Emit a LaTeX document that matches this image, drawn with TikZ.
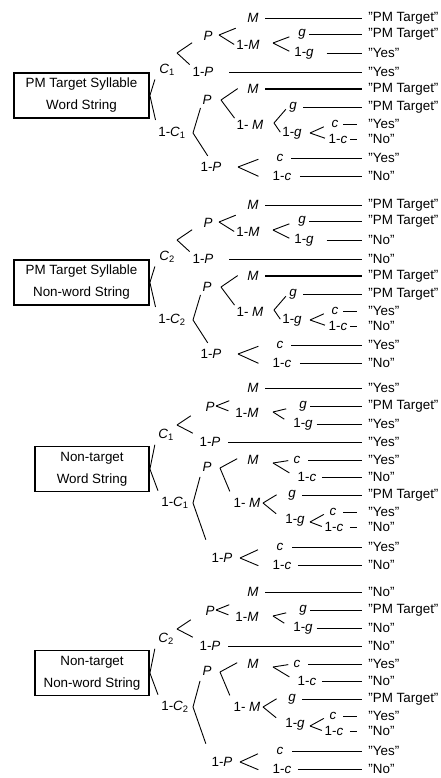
\documentclass[tikz,border=0pt]{standalone}
\usepackage{fontspec}
\setmainfont{Liberation Sans}

% rows of the answers, measured from the top of each tree
\def\rowsA{{18,34,53,72,89,107,124,139,158,176}}
\def\rowsB{{18,36,54,72,90,107,125,142,157,177,195}}

\begin{document}
\begin{tikzpicture}[x=1pt, y=-1pt, line width=0.9pt,
    lab/.style={inner sep=1pt, font=\fontsize{13.4}{16}\selectfont},
    answer/.style={anchor=west, inner sep=0pt, font=\fontsize{13.4}{16}\selectfont},
    case/.style={draw, line width=1.8pt, align=center, minimum height=45pt,
      font=\fontsize{13.4}{22}\selectfont},
    leaf/.style={shorten <=#1, shorten >=6pt},
    twig/.style={shorten <=#1, shorten >=11pt},
    arm/.style={shorten >=#1}]
\useasboundingbox (0,0) rectangle (440,778);

% PM target syllable: word / non-word string
\foreach \dy/\cn/\kind/\outs in {
    0/1/Word String/{PM Target,PM Target,Yes,Yes,PM Target,PM Target,Yes,No,Yes,No},
    187/2/Non-word String/{PM Target,PM Target,No,No,PM Target,PM Target,Yes,No,Yes,No}}{
  \begin{scope}[shift={(0,\dy)}]
    \node[case, minimum width=135pt] (box) at (81.5,95.5) {PM Target Syllable\\\kind};
    \node[lab] (C)   at (167,70)  {\textit{C}\textsubscript{\cn}};
    \node[lab] (nC)  at (172,133) {1-\textit{C}\textsubscript{\cn}};
    \node[lab] (P)   at (208,36)  {\textit{P}};
    \node[lab] (nP)  at (203,72)  {1-\textit{P}};
    \node[lab] (M)   at (253,18)  {\textit{M}};
    \node[lab] (nM)  at (248,45)  {1-\textit{M}};
    \node[lab] (g)   at (302,34)  {\textit{g}};
    \node[lab] (ng)  at (304,53)  {1-\textit{g}};
    \node[lab] (Pb)  at (207,100) {\textit{P}};
    \node[lab] (Mb)  at (253,89)  {\textit{M}};
    \node[lab] (nMb) at (250,125) {1- \textit{M}};
    \node[lab] (gb)  at (293,107) {\textit{g}};
    \node[lab] (ngb) at (292,133) {1-\textit{g}};
    \node[lab] (cb)  at (335,124) {\textit{c}};
    \node[lab] (ncb) at (338,139) {1-\textit{c}};
    \node[lab] (nPb) at (211,167) {1-\textit{P}};
    \node[lab] (cc)  at (280,158) {\textit{c}};
    \node[lab] (ncc) at (282,176) {1-\textit{c}};
    \foreach \txt [count=\i] in \outs {
      \pgfmathsetmacro\ry{\rowsA[\i-1]}
      \node[answer] (o\i) at (368,\ry) {"\txt"};
    }
    % branches
    \draw[arm=10pt] (box.east) -- (C.west);
    \draw[arm=6pt] (box.east) -- (nC.north west);
    \coordinate (vC) at (177,53);
    \draw[arm=12pt] (vC) -- (P.west);
    \draw[arm=2pt] (vC) -- (nP.north west);
    \coordinate (vP) at (219,35);
    \draw[arm=11pt] (vP) -- (M.south west);
    \draw[arm=1pt] (vP) -- (nM.west);
    \coordinate (vM) at (273,43);
    \draw[arm=8pt] (vM) -- (g.west);
    \draw[arm=4pt] (vM) -- (ng.west);
    \coordinate (vN) at (193,133);
    \draw[arm=2pt] (vN) -- (Pb.south west);
    \draw[arm=6pt] (vN) -- (nPb.north);
    \coordinate (vPb) at (221,100);
    \draw[arm=10pt] (vPb) -- (Mb.north west);
    \draw[arm=1pt] (vPb) -- (nMb.north west);
    \coordinate (vMc) at (274,123);
    \draw[arm=3pt] (vMc) -- (gb.west);
    \draw[arm=1pt] (vMc) -- (ngb.west);
    \coordinate (vG) at (310,133);
    \draw[arm=7pt] (vG) -- (cb.west);
    \draw[arm=2.5pt] (vG) -- (ncb.west);
    \coordinate (vQ) at (238,167);
    \draw[arm=18pt] (vQ) -- (cc.north west);
    \draw[arm=14pt] (vQ) -- (ncc.south west);
    % answers
    \draw[leaf=5.4pt] (M) -- (o1);
    \draw[leaf=2pt] (g) -- (o2);
    \draw[leaf=11.5pt] (ng) -- (o3);
    \draw[leaf=14.6pt] (nP) -- (o4);
    \draw[leaf=5.4pt, line width=1.5pt] (Mb) -- (o5);
    \draw[leaf=5pt] (gb) -- (o6);
    \draw[twig=3.6pt] (cb) -- (o7);
    \draw[twig=1.5pt] (ncb) -- (o8);
    \draw[leaf=6.6pt] (cc) -- (o9);
    \draw[leaf=7pt] (ncc) -- (o10);
  \end{scope}
}

% non-target: word / non-word string
\foreach \dy/\cn/\kind/\outs in {
    370/1/Word String/{Yes,PM Target,Yes,Yes,Yes,No,PM Target,Yes,No,Yes,No},
    574/2/Non-word String/{No,PM Target,No,No,Yes,No,PM Target,Yes,No,Yes,No}}{
  \begin{scope}[shift={(0,\dy)}]
    \node[case, minimum width=114pt] (box) at (92,99) {Non-target\\\kind};
    \node[lab] (C)   at (166,65)  {\textit{C}\textsubscript{\cn}};
    \node[lab] (nC)  at (175,133) {1-\textit{C}\textsubscript{\cn}};
    \node[lab] (P)   at (210,37)  {\textit{P}};
    \node[lab] (nP)  at (210,72)  {1-\textit{P}};
    \node[lab] (M)   at (253,18)  {\textit{M}};
    \node[lab] (nM)  at (247,43)  {1-\textit{M}};
    \node[lab] (g)   at (303,36)  {\textit{g}};
    \node[lab] (ng)  at (303,54)  {1-\textit{g}};
    \node[lab] (Pb)  at (207,97)  {\textit{P}};
    \node[lab] (Mb)  at (253,90)  {\textit{M}};
    \node[lab] (cb)  at (297,90)  {\textit{c}};
    \node[lab] (ncb) at (307,107) {1-\textit{c}};
    \node[lab] (nMb) at (247,133) {1- \textit{M}};
    \node[lab] (gb)  at (292,125) {\textit{g}};
    \node[lab] (ngb) at (295,150) {1-\textit{g}};
    \node[lab] (cc)  at (333,142) {\textit{c}};
    \node[lab] (ncc) at (334,157) {1-\textit{c}};
    \node[lab] (nPb) at (222,188) {1-\textit{P}};
    \node[lab] (cd)  at (280,177) {\textit{c}};
    \node[lab] (ncd) at (282,195) {1-\textit{c}};
    \foreach \txt [count=\i] in \outs {
      \pgfmathsetmacro\ry{\rowsB[\i-1]}
      \node[answer] (o\i) at (368,\ry) {"\txt"};
    }
    % branches
    \draw[arm=10pt] (box.east) -- (C.west);
    \draw[arm=5.5pt] (box.east) -- (nC.north west);
    \coordinate (vC) at (177,55);
    \draw[arm=16pt] (vC) -- (P.west);
    \draw[arm=6pt] (vC) -- (nP.north west);
    \coordinate (vP) at (216,36);
    \draw[arm=18pt] (vP) -- (M.south west);
    \draw[arm=6pt] (vP) -- (nM.west);
    \coordinate (vM) at (273,42);
    \draw[arm=12pt] (vM) -- (g.west);
    \draw[arm=9pt] (vM) -- (ng.west);
    \coordinate (vN) at (193,133);
    \draw[arm=4pt] (vN) -- (Pb.south west);
    \draw[arm=13pt] (vN) -- (nPb.north west);
    \coordinate (vPb) at (220,98);
    \draw[arm=10pt] (vPb) -- (Mb.north west);
    \draw[arm=6pt] (vPb) -- (nMb.north west);
    \coordinate (vMb) at (273,93);
    \draw[arm=4pt] (vMb) -- (cb.west);
    \draw[arm=8pt] (vMb) -- (ncb.west);
    \coordinate (vMc) at (263,133);
    \draw[arm=12pt] (vMc) -- (gb.north west);
    \draw[arm=10pt] (vMc) -- (ngb.west);
    \coordinate (vG) at (310,152);
    \draw[arm=5pt] (vG) -- (cc.west);
    \draw[arm=1.5pt] (vG) -- (ncc.west);
    \coordinate (vQ) at (240,188);
    \draw[arm=19pt] (vQ) -- (cd.north west);
    \draw[arm=14pt] (vQ) -- (ncd.south west);
    % answers
    \draw[leaf=5.4pt] (M) -- (o1);
    \draw[leaf=2pt] (g) -- (o2);
    \draw[leaf=2.5pt] (ng) -- (o3);
    \draw[leaf=6.6pt] (nP) -- (o4);
    \draw[leaf=6.6pt] (cb) -- (o5);
    \draw[leaf=4pt] (ncb) -- (o6);
    \draw[leaf=5pt] (gb) -- (o7);
    \draw[twig=5.6pt] (cc) -- (o8);
    \draw[twig=5pt] (ncc) -- (o9);
    \draw[leaf=7.6pt] (cd) -- (o10);
    \draw[leaf=5pt] (ncd) -- (o11);
  \end{scope}
}
\end{tikzpicture}
\end{document}
